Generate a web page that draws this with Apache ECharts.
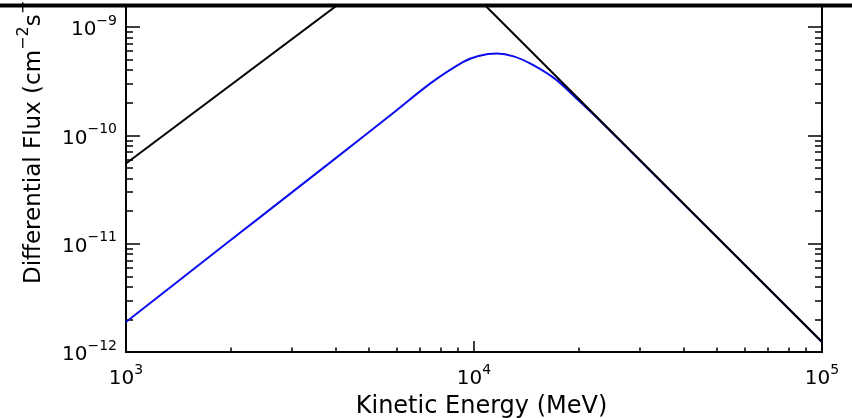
<!DOCTYPE html>
<html>
<head>
<meta charset="utf-8">
<script src="https://cdn.jsdelivr.net/npm/echarts@6/dist/echarts.min.js"></script>
<style>
html,body{margin:0;padding:0;background:#fff;}
#chart{width:852px;height:418px;}
</style>
</head>
<body>
<div id="chart"></div>
<script>
// ---- data ----
const xMajorTicks = [1e3, 1e4, 1e5];
const xMinorTicks = [2e3,3e3,4e3,5e3,6e3,7e3,8e3,9e3,2e4,3e4,4e4,5e4,6e4,7e4,8e4,9e4];
const yMajorTicks = [1e-12, 1e-11, 1e-10, 1e-9];
const yMinorTicks = [2e-12,3e-12,4e-12,5e-12,6e-12,7e-12,8e-12,9e-12,
                     2e-11,3e-11,4e-11,5e-11,6e-11,7e-11,8e-11,9e-11,
                     2e-10,3e-10,4e-10,5e-10,6e-10,7e-10,8e-10,9e-10];
// black: broken power law (energy MeV, flux)
const blackEnergy = [1000, 7070, 100000];
const blackFlux   = [5.49e-11, 6.1e-9, 1.237e-12];
// blue: modulated spectrum
const blueEnergy = [1000, 2000, 3094, 3857, 5996, 7474, 9318, 10300, 11645, 13000, 14807, 17284, 19730, 23020, 32040, 100000];
const blueFlux   = [1.89e-12, 1.08e-11, 3.22e-11, 5.6e-11, 1.706e-10, 3.0e-10, 4.76e-10, 5.4e-10, 5.69e-10, 5.35e-10, 4.44e-10, 3.23e-10, 2.18e-10, 1.364e-10, 4.73e-11, 1.237e-12];

const FONT = 'DejaVu Sans';
const supFmt = function (v) {
  const e = Math.round(Math.log10(v));
  const s = (e < 0 ? '\u2212' + (-e) : '' + e);
  return '{b|10}{s|' + s + '}';
};
const richLab = {
  b: {fontFamily: FONT, fontSize: 20, color: '#000', lineHeight: 26, verticalAlign: 'bottom'},
  s: {fontFamily: FONT, fontSize: 14, color: '#000', lineHeight: 14, verticalAlign: 'top'}
};

const xMin = 1000, xMax = 100000;
const yMin = 1e-12, yMax = Math.pow(10, -8.797);
const axisLineStyle = {color: '#000', width: 2};
const tickStyle = {color: '#000', width: 1.5};

const chart = echarts.init(document.getElementById('chart'), null, {renderer: 'canvas'});
chart.setOption({
  animation: false,
  backgroundColor: '#fff',
  grid: {left: 126, top: 5, width: 696, height: 347, containLabel: false},
  xAxis: [
    {type: 'log', logBase: 10, min: xMin, max: xMax, position: 'bottom',
     axisLine: {show: true, lineStyle: axisLineStyle},
     axisTick: {show: true, inside: true, length: 11, customValues: xMajorTicks, lineStyle: tickStyle},
     axisLabel: {show: true, customValues: xMajorTicks, formatter: supFmt, rich: richLab, margin: 11},
     splitLine: {show: false}, minorTick: {show: false}},
    {type: 'log', logBase: 10, min: xMin, max: xMax, position: 'bottom',
     axisLine: {show: false},
     axisTick: {show: true, inside: true, length: 4.5, customValues: xMinorTicks, lineStyle: tickStyle},
     axisLabel: {show: false}, splitLine: {show: false}}
  ],
  yAxis: [
    {type: 'log', logBase: 10, min: yMin, max: yMax, position: 'left',
     axisLine: {show: true, lineStyle: axisLineStyle},
     axisTick: {show: true, inside: true, length: 14, customValues: yMajorTicks, lineStyle: tickStyle},
     axisLabel: {show: true, customValues: yMajorTicks, formatter: supFmt, rich: richLab, margin: 9},
     splitLine: {show: false}},
    {type: 'log', logBase: 10, min: yMin, max: yMax, position: 'left',
     axisLine: {show: false},
     axisTick: {show: true, inside: true, length: 7, customValues: yMinorTicks, lineStyle: tickStyle},
     axisLabel: {show: false}, splitLine: {show: false}},
    {type: 'log', logBase: 10, min: yMin, max: yMax, position: 'right',
     axisLine: {show: true, lineStyle: axisLineStyle},
     axisTick: {show: true, inside: true, length: 14, customValues: yMajorTicks, lineStyle: tickStyle},
     axisLabel: {show: false}, splitLine: {show: false}},
    {type: 'log', logBase: 10, min: yMin, max: yMax, position: 'right',
     axisLine: {show: false},
     axisTick: {show: true, inside: true, length: 7, customValues: yMinorTicks, lineStyle: tickStyle},
     axisLabel: {show: false}, splitLine: {show: false}}
  ],
  series: [
    {type: 'line', xAxisIndex: 0, yAxisIndex: 0, showSymbol: false, symbol: 'none', clip: true,
     smooth: 0.25,
     data: blueEnergy.map((e, i) => [e, blueFlux[i]]),
     lineStyle: {color: '#0c0cf0', width: 2}, z: 2},
    {type: 'line', xAxisIndex: 0, yAxisIndex: 0, showSymbol: false, symbol: 'none', clip: true,
     data: blackEnergy.map((e, i) => [e, blackFlux[i]]),
     lineStyle: {color: '#000', width: 2}, z: 3}
  ],
  graphic: [
    {type: 'rect', left: 0, top: 3.5, shape: {width: 852, height: 4}, style: {fill: '#000'}, z: 100},
    {type: 'text', x: 481.5, y: 407, style: {text: 'Kinetic Energy (MeV)', fontFamily: FONT, fontSize: 24,
      fill: '#000', align: 'center', verticalAlign: 'middle'}},
    {type: 'text', x: 31, y: 284, rotation: Math.PI / 2,
     style: {text: '{a|Differential Flux (cm}{s|\u22122}{a|s}{s|\u22121}{a|sr}{s|\u22121}{a|MeV}{s|\u22121}{a|)}',
       rich: {a: {fontFamily: FONT, fontSize: 23, fill: '#000', lineHeight: 30, verticalAlign: 'bottom'},
              s: {fontFamily: FONT, fontSize: 16, fill: '#000', lineHeight: 16, verticalAlign: 'top'}},
       align: 'left', verticalAlign: 'middle'}}
  ]
});
</script>
</body>
</html>
